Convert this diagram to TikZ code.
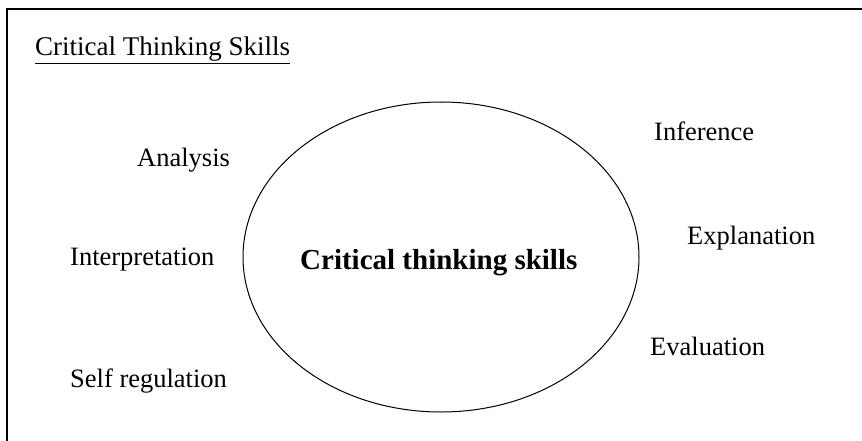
\documentclass[tikz,border=0pt]{standalone}
\usepackage{fontspec}
\setmainfont{Liberation Serif}
\usetikzlibrary{shapes.geometric}
\begin{document}
\begin{tikzpicture}[x=1pt,y=-1pt,
  lbl/.style={anchor=base west,inner sep=0pt,font=\fontsize{26.5}{30}\selectfont},
  hdr/.style={anchor=base west,inner sep=0pt,font=\fontsize{27}{31}\selectfont},
  ttl/.style={anchor=base west,inner sep=0pt,font=\fontsize{29}{33}\selectfont\bfseries},
  frame/.style={line width=1.6pt}]
\useasboundingbox (0,0) rectangle (862,441);
\draw[frame] (7,441) -- (7,9) -- (862,9);
\node[hdr] (head) at (35,56) {\underline{Critical Thinking Skills}};
\node[draw,ellipse,line width=1pt,minimum width=396pt,minimum height=310pt,inner sep=0pt] (circ) at (441,257) {};
\node[ttl] (main) at (300,269) {Critical thinking skills};
\node[lbl] (ana) at (137,166) {Analysis};
\node[lbl] (int) at (70,265) {Interpretation};
\node[lbl] (self) at (70,387) {Self regulation};
\node[lbl] (inf) at (654,141) {Inference};
\node[lbl] (exp) at (687,244) {Explanation};
\node[lbl] (eva) at (650,355) {Evaluation};
\end{tikzpicture}
\end{document}
